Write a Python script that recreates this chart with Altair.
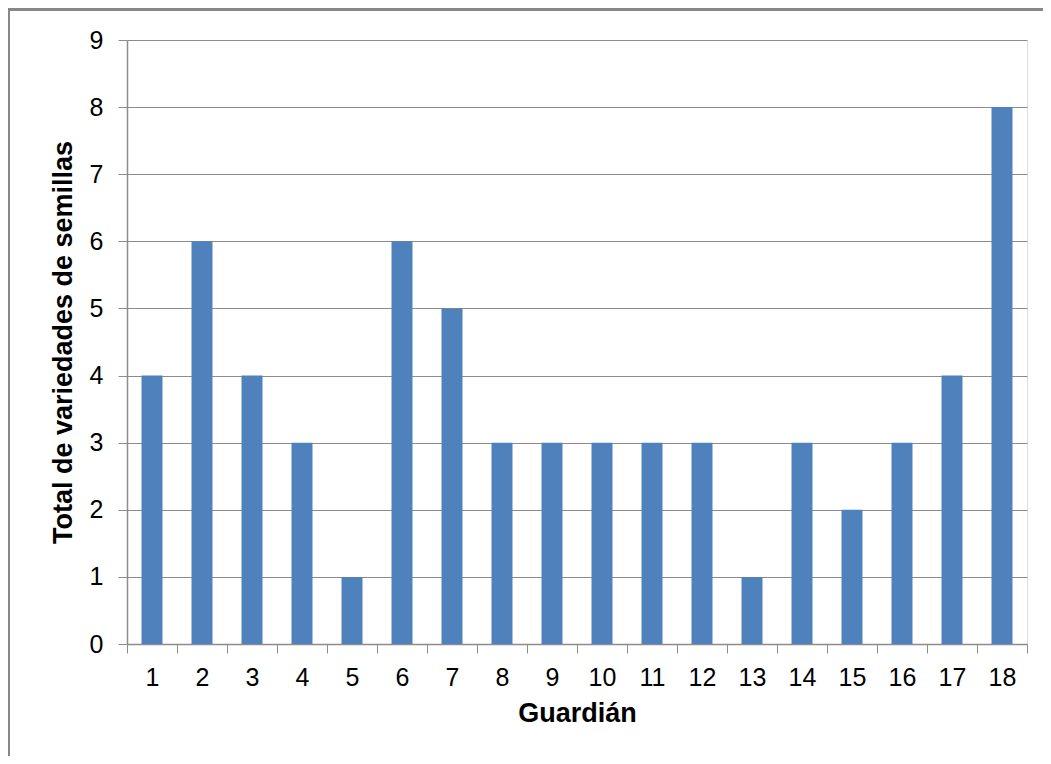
import altair as alt
import pandas as pd

guardians = [str(i) for i in range(1, 19)]
values = [4, 6, 4, 3, 1, 6, 5, 3, 3, 3, 3, 3, 1, 3, 2, 3, 4, 8]

df = pd.DataFrame({"Guardián": guardians, "Total": values})

FONT = "Liberation Sans"
GRID = "#8c8c8c"

bars = alt.Chart(df).mark_bar(color="#4F81BD", size=21).encode(
    x=alt.X("Guardián:N", sort=guardians,
            scale=alt.Scale(paddingInner=0, paddingOuter=0),
            axis=alt.Axis(title="Guardián", labelAngle=0, labelFontSize=25,
                          labelFont=FONT, labelColor="#000000", labelPadding=12,
                          titleFont=FONT, titleFontSize=27, titleFontWeight="bold",
                          titleColor="#000000", titlePadding=10,
                          tickColor=GRID, tickSize=9, tickBand="extent",
                          domainColor=GRID, domainWidth=1.5, grid=False)),
    y=alt.Y("Total:Q", scale=alt.Scale(domain=[0, 9]),
            axis=alt.Axis(title="Total de variedades de semillas", values=list(range(10)),
                          labelFontSize=25, labelFont=FONT, labelColor="#000000",
                          labelPadding=15, titleFont=FONT, titleFontSize=27,
                          titleFontWeight="bold", titleColor="#000000", titlePadding=12,
                          tickColor=GRID, tickSize=9, domainColor=GRID, domainWidth=1.5,
                          gridColor=GRID, gridWidth=1.2)),
)

border = alt.Chart(df).mark_rect(fill=None, stroke="#878787", strokeWidth=2.5).encode(
    x=alt.value(-119), y=alt.value(-31), x2=alt.value(1200), y2=alt.value(900)
)

chart = alt.layer(bars, border).properties(
    width=900, height=604,
    autosize=alt.AutoSizeParams(type="none"),
    padding={"left": 119, "top": 32, "right": 16, "bottom": 112},
).configure_view(stroke=None).configure(background="white")

chart.save("out.html", embed_options={"renderer": "svg", "actions": False})
